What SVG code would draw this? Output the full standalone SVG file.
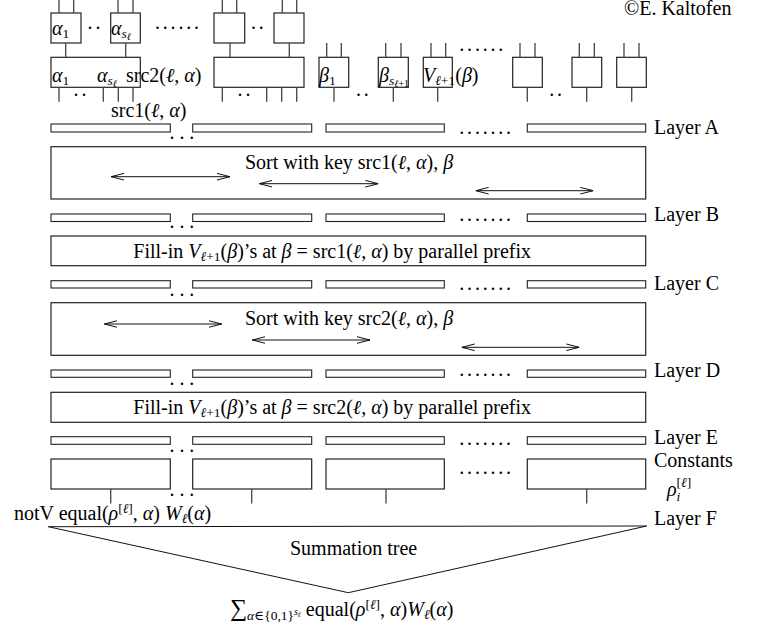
<svg xmlns="http://www.w3.org/2000/svg" width="767" height="626" viewBox="0 0 767 626">
<defs>
<style>
.t{font-family:"Liberation Serif","DejaVu Serif",serif;font-size:20px;fill:#000}
.i{font-style:italic}
.s{font-size:13.5px}
.ss{font-size:10px}
.box{fill:#fff;stroke:#222;stroke-width:1.2}
.bar{fill:#fff;stroke:#222;stroke-width:1.1}
.w{stroke:#444;stroke-width:1.3;fill:none}
.ln{stroke:#111;stroke-width:1;fill:none}
.ar{stroke:#111;stroke-width:1;fill:none;marker-start:url(#ah);marker-end:url(#ah)}
.dot{letter-spacing:2.8px}
.dot3{letter-spacing:4.8px}
</style>
<marker id="ah" viewBox="0 -4 13 8" refX="13" refY="0" markerWidth="13" markerHeight="8" markerUnits="userSpaceOnUse" orient="auto-start-reverse">
<path d="M0,-3.3 L13,0 L0,3.3" fill="none" stroke="#111" stroke-width="1"/>
</marker>
</defs>
<rect width="767" height="626" fill="#fff"/>

<text class="t" x="-4" y="133" style="font-size:10px;fill:#888">1</text>
<text class="t" x="624" y="15">©E. Kaltofen</text>

<g id="top-row">
<rect class="box" x="51" y="13" width="30" height="30"/>
<text class="t" x="52" y="35"><tspan class="i">α</tspan><tspan class="s" dy="3">1</tspan></text>
<text class="t dot" x="87.6" y="29">..</text>
<rect class="box" x="110.7" y="13" width="29.6" height="30"/>
<text class="t" x="111" y="35"><tspan class="i">α</tspan><tspan class="s i" dy="3">s</tspan><tspan class="ss i" dy="2">ℓ</tspan></text>
<text class="t dot" x="155" y="29">......</text>
<rect class="box" x="214" y="13" width="30.7" height="30"/>
<text class="t dot" x="251" y="29">..</text>
<rect class="box" x="274" y="13" width="30" height="30"/>
</g>

<g id="group-box-1">
<rect class="box" x="51" y="57.3" width="89.3" height="30"/>
<text class="t" x="52" y="82"><tspan class="i">α</tspan><tspan class="s" dy="3">1</tspan></text>
<text class="t" x="97" y="82"><tspan class="i">α</tspan><tspan class="s i" dy="3">s</tspan><tspan class="ss i" dy="2">ℓ</tspan></text>
<text class="t" x="126" y="82">src2(<tspan class="i">ℓ</tspan>, <tspan class="i">α</tspan>)</text>
<text class="t dot" x="73.6" y="96.3">..</text>
<text class="t" x="111" y="117">src1(<tspan class="i">ℓ</tspan>, <tspan class="i">α</tspan>)</text>
</g>

<g id="group-box-2">
<rect class="box" x="214" y="57.3" width="90" height="30"/>
<text class="t dot" x="237.6" y="96.3">..</text>
</g>

<g id="beta-nodes">
<rect class="box" x="319" y="57.3" width="29.7" height="30"/>
<text class="t" x="319" y="82"><tspan class="i">β</tspan><tspan class="s" dy="3">1</tspan></text>
<text class="t dot" x="356" y="96.3">..</text>
<rect class="box" x="378.3" y="57.3" width="30" height="30"/>
<text class="t" x="379" y="82"><tspan class="i">β</tspan><tspan class="s i" dy="3">s</tspan><tspan class="ss i" dy="2">ℓ</tspan><tspan class="ss" dy="0">+1</tspan></text>
<rect class="box" x="423.3" y="57.3" width="29" height="30"/>
<text class="t" x="423" y="82"><tspan class="i">V</tspan><tspan class="s i" dy="3">ℓ</tspan><tspan class="s" dy="0">+1</tspan><tspan dy="-3">(</tspan><tspan class="i">β</tspan>)</text>
<text class="t dot" x="459.3" y="51.3">......</text>
<rect class="box" x="512.7" y="57.3" width="29.6" height="30"/>
<text class="t dot" x="549.3" y="96.3">..</text>
<rect class="box" x="572" y="57.3" width="29.7" height="30"/>
<rect class="box" x="616.7" y="57.3" width="29.6" height="30"/>
</g>

<g id="layer-a">
<rect class="bar" x="51" y="124" width="119.3" height="8"/>
<rect class="bar" x="192.7" y="124" width="119" height="8"/>
<rect class="bar" x="326" y="124" width="118.3" height="8"/>
<rect class="bar" x="527.3" y="124" width="118.4" height="8"/>
<text class="t dot3" x="169.6" y="138.6">...</text>
<text class="t dot" x="459.3" y="134">.......</text>
<text class="t" x="654" y="134">Layer A</text>
</g>

<g id="sort-1">
<rect class="box" x="51" y="146.7" width="594.7" height="52.3"/>
<text class="t" x="245" y="169">Sort with key src1(<tspan class="i">ℓ</tspan>, <tspan class="i">α</tspan>), <tspan class="i">β</tspan></text>
</g>

<g id="layer-b">
<rect class="bar" x="51" y="214" width="119.3" height="7.5"/>
<rect class="bar" x="192.7" y="214" width="119" height="7.5"/>
<rect class="bar" x="326" y="214" width="118.3" height="7.5"/>
<rect class="bar" x="527.3" y="214" width="118.4" height="7.5"/>
<text class="t dot3" x="169.6" y="228">...</text>
<text class="t dot" x="459.3" y="221.3">.......</text>
<text class="t" x="654" y="220.5">Layer B</text>
</g>

<g id="fill-1">
<rect class="box" x="51" y="236" width="594.7" height="29.7"/>
<text class="t" x="133.3" y="258">Fill-in <tspan class="i">V</tspan><tspan class="s i" dy="3">ℓ</tspan><tspan class="s" dy="0">+1</tspan><tspan dy="-3">(</tspan><tspan class="i">β</tspan>)’s at <tspan class="i">β</tspan> = src1(<tspan class="i">ℓ</tspan>, <tspan class="i">α</tspan>) by parallel prefix</text>
</g>

<g id="layer-c">
<rect class="bar" x="51" y="280.7" width="119.3" height="7.3"/>
<rect class="bar" x="192.7" y="280.7" width="119" height="7.3"/>
<rect class="bar" x="326" y="280.7" width="118.3" height="7.3"/>
<rect class="bar" x="527.3" y="280.7" width="118.4" height="7.3"/>
<text class="t dot3" x="169.6" y="295.6">...</text>
<text class="t dot" x="459.3" y="289.6">.......</text>
<text class="t" x="654" y="290">Layer C</text>
</g>

<g id="sort-2">
<rect class="box" x="51" y="302.7" width="594.7" height="52.6"/>
<text class="t" x="245" y="325">Sort with key src2(<tspan class="i">ℓ</tspan>, <tspan class="i">α</tspan>), <tspan class="i">β</tspan></text>
</g>

<g id="layer-d">
<rect class="bar" x="51" y="370" width="119.3" height="7.3"/>
<rect class="bar" x="192.7" y="370" width="119" height="7.3"/>
<rect class="bar" x="326" y="370" width="118.3" height="7.3"/>
<rect class="bar" x="527.3" y="370" width="118.4" height="7.3"/>
<text class="t dot3" x="169.6" y="385.3">...</text>
<text class="t dot" x="459.3" y="376.3">.......</text>
<text class="t" x="654" y="376.5">Layer D</text>
</g>

<g id="fill-2">
<rect class="box" x="51" y="392.3" width="594.7" height="30"/>
<text class="t" x="133.3" y="414.3">Fill-in <tspan class="i">V</tspan><tspan class="s i" dy="3">ℓ</tspan><tspan class="s" dy="0">+1</tspan><tspan dy="-3">(</tspan><tspan class="i">β</tspan>)’s at <tspan class="i">β</tspan> = src2(<tspan class="i">ℓ</tspan>, <tspan class="i">α</tspan>) by parallel prefix</text>
</g>

<g id="layer-e">
<rect class="bar" x="51" y="436.7" width="119.3" height="7.6"/>
<rect class="bar" x="192.7" y="436.7" width="119" height="7.6"/>
<rect class="bar" x="326" y="436.7" width="118.3" height="7.6"/>
<rect class="bar" x="527.3" y="436.7" width="118.4" height="7.6"/>
<text class="t dot3" x="169.6" y="452">...</text>
<text class="t dot" x="459.3" y="444.6">.......</text>
<text class="t" x="654" y="444">Layer E</text>
</g>

<g id="constants">
<rect class="box" x="51" y="459" width="119.3" height="30"/>
<rect class="box" x="192.7" y="459" width="119" height="30"/>
<rect class="box" x="326" y="459" width="118.3" height="30"/>
<rect class="box" x="527.3" y="459" width="118.4" height="30"/>
<text class="t dot3" x="169.6" y="496.3">...</text>
<text class="t dot" x="459.3" y="473.6">.......</text>
<text class="t" x="654" y="467">Constants</text>
<text class="t" x="667" y="496"><tspan class="i">ρ</tspan><tspan class="s" dy="-9">[</tspan><tspan class="s i">ℓ</tspan><tspan class="s">]</tspan></text>
<text class="t s i" x="676.5" y="501">i</text>
</g>

<g id="layer-f">
<text class="t" x="14" y="520">notV equal(<tspan class="i">ρ</tspan><tspan class="s" dy="-7">[</tspan><tspan class="s i">ℓ</tspan><tspan class="s">]</tspan><tspan dy="7">, </tspan><tspan class="i">α</tspan>) <tspan class="i">W</tspan><tspan class="s i" dy="3">ℓ</tspan><tspan dy="-3">(</tspan><tspan class="i">α</tspan>)</text>
<text class="t" x="654" y="525">Layer F</text>
<text class="t" x="290" y="555">Summation tree</text>
</g>

<g id="sum-output">
<text class="t" x="230" y="616"><tspan style="font-size:24px">∑</tspan><tspan class="s i" dy="4">α</tspan><tspan class="s">∈{0,1}</tspan><tspan class="ss i" dy="-5">s</tspan><tspan style="font-size:7px" class="i" dy="2">ℓ</tspan><tspan dy="-1"> equal(</tspan><tspan class="i">ρ</tspan><tspan class="s" dy="-7">[</tspan><tspan class="s i">ℓ</tspan><tspan class="s">]</tspan><tspan dy="7">, </tspan><tspan class="i">α</tspan>)<tspan class="i">W</tspan><tspan class="s i" dy="3">ℓ</tspan><tspan dy="-3">(</tspan><tspan class="i">α</tspan>)</text>
</g>

<g id="connectors">
<path class="w" d="M59,0V13 M73.7,0V13 M118,0V13 M133,0V13 M222.3,0V13 M236.7,0V13 M282.3,0V13 M296.7,0V13"/>
<path class="w" d="M65.7,43V57 M125.7,43V57 M230,43V57 M289.3,43V57"/>
<path class="w" d="M326.7,43V57 M341.3,43V57 M385.7,43V57 M401,43V57 M431,43V57 M445.7,43V57 M520,43V57 M535,43V57 M579.3,43V57 M594.3,43V57 M624,43V57 M639,43V57"/>
<path class="w" d="M59,87.3V101.7 M103.3,87.3V101.7 M118.3,87.3V101.7 M133,87.3V101.7 M222.3,87.3V101.7 M266.7,87.3V101.7 M281.7,87.3V101.7 M296.7,87.3V101.7 M334,87.3V101.7 M393.3,87.3V101.7 M437.7,87.3V101.7 M527.3,87.3V101.7 M586.7,87.3V101.7 M631.7,87.3V101.7"/>
<path class="w" d="M110.7,489V503.5 M251.7,489V503.5 M386,489V503.5 M586.7,489V503.5"/>
<path class="ar" d="M111,176.7H230"/>
<path class="ar" d="M259.3,183.7H378.3"/>
<path class="ar" d="M475.7,190.7H593.3"/>
<path class="ar" d="M104.3,324H221.7"/>
<path class="ar" d="M252.3,340H370"/>
<path class="ar" d="M461.7,347.3H579.3"/>
<path class="ln" d="M48.3,526.7L646.7,526 M48.3,526.7L348.3,592.7L646.7,526"/>
</g>
</svg>
